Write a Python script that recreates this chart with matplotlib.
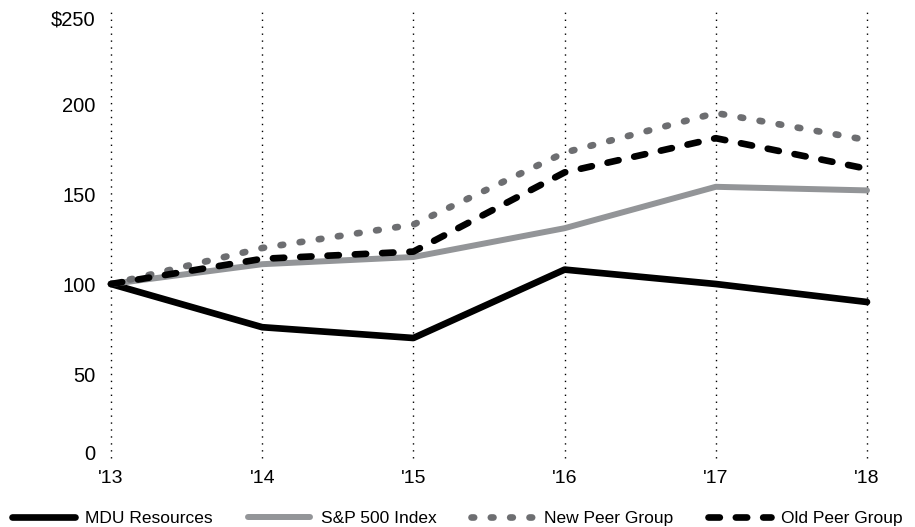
import matplotlib.pyplot as plt
import matplotlib.transforms as mtransforms
import numpy as np

plt.rcParams['font.family'] = ['Liberation Sans', 'DejaVu Sans']

# --------------------
# data
years = ["'13", "'14", "'15", "'16", "'17", "'18"]
mdu = [100, 76, 70, 108, 100, 90]
sp500 = [100, 111, 115, 131, 154, 152]
new_peer = [100, 120, 133, 173, 195, 180]
old_peer = [100, 114, 118, 162, 181, 164]
y_ticks = [0, 50, 100, 150, 200, 250]
y_labels = ["0", "50", "100", "150", "200", "$250"]

# --------------------
fig = plt.figure(figsize=(9.15, 5.27), dpi=100)
# axis: x 111..867 px, y 464 (0) .. 14 (250) px
ax = fig.add_axes([111 / 915, 1 - 464 / 527, 756 / 915, 450 / 527])

x = np.arange(len(years))

ax.plot(x, mdu, color="black", lw=4.8, solid_capstyle="round",
        solid_joinstyle="round", clip_on=False, label="MDU Resources", zorder=3)
ax.plot(x, sp500, color="#939598", lw=4.3, solid_capstyle="round",
        solid_joinstyle="round", clip_on=False, label="S&P 500 Index", zorder=3)
ax.plot(x, new_peer, color="#6d6e71", lw=4.8, dashes=(0.4, 2.5),
        dash_capstyle="round", clip_on=False, label="New Peer Group", zorder=4)
ax.plot(x, old_peer, color="black", lw=4.8, dashes=(1.7, 2.4),
        dash_capstyle="round", clip_on=False, label="Old Peer Group", zorder=5)

# vertical dotted gridlines
for xi in x:
    ax.axvline(xi, ymin=0.013, ymax=1.013, color="black", lw=1.0,
               linestyle=(0, (1, 4)), clip_on=False, zorder=1)

ax.set_xlim(0, len(years) - 1)
ax.set_ylim(0, 250)
ax.set_xticks(x)
ax.set_xticklabels(years, fontsize=14)
ax.set_yticks(y_ticks)
ax.set_yticklabels(y_labels, fontsize=14.5)
ax.tick_params(length=0)
ax.tick_params(axis="y", pad=11)
ax.tick_params(axis="x", pad=4)
for s in ax.spines.values():
    s.set_visible(False)

# the end labels sit a little inside the axis in the reference
ylabs = ax.get_yticklabels()
ylabs[0].set_transform(ylabs[0].get_transform() +
                       mtransforms.ScaledTranslation(0, 11 / 100, fig.dpi_scale_trans))
ylabs[-1].set_transform(ylabs[-1].get_transform() +
                        mtransforms.ScaledTranslation(0, -4 / 100, fig.dpi_scale_trans))

fig.legend(loc="center", bbox_to_anchor=(0.5, 1 - 518 / 527), ncol=4,
           frameon=False, fontsize=12.5, handlelength=3.6,
           columnspacing=2.0, handletextpad=0.6, borderaxespad=0)

plt.savefig("out.png", dpi=100)
plt.close()
